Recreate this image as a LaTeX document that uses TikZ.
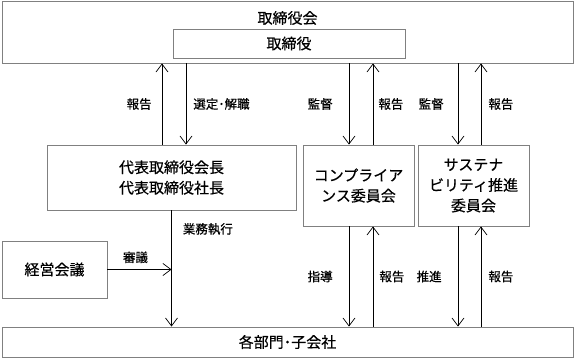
\documentclass[tikz,border=0pt]{standalone}
\usepackage{fontspec}
\setmainfont{Noto Sans CJK JP}[FakeBold=0.5]
\usetikzlibrary{arrows.meta}
\definecolor{boxgray}{RGB}{128,128,128}
\begin{document}
\begin{tikzpicture}[x=1pt, y=-1pt,
    box/.style={draw=boxgray, line width=0.9pt, align=center, font=\fontsize{15}{20.5}\selectfont, inner sep=0pt},
    arr/.style={-{Straight Barb[length=8pt,width=12pt]}, line width=0.7pt},
    lbl/.style={font=\fontsize{12.5}{14}\selectfont, inner sep=0pt}]
    \useasboundingbox (0,0) rectangle (575,358);
    \node[box, minimum width=571pt, minimum height=62pt] (board) at (287.5,32) {};
    \node[font=\fontsize{15}{18}\selectfont, inner sep=0pt] (boardname) at (287.5,18) {取締役会};
    \node[box, minimum width=232pt, minimum height=29pt] (dir) at (289,43.5) {取締役};
    \node[box, minimum width=249pt, minimum height=65pt] (ceo) at (171.5,177.5) {代表取締役会長\\代表取締役社長};
    \node[box, minimum width=111pt, minimum height=81pt] (comp) at (358.5,185.5) {コンプライア\\ンス委員会};
    \node[box, minimum width=111pt, minimum height=81pt] (sus) at (473.5,185.5) {サステナ\\ビリティ推進\\委員会};
    \node[box, minimum width=105pt, minimum height=57pt] (mgmt) at (54.5,269.5) {経営会議};
    \node[box, minimum width=571pt, minimum height=30pt] (depts) at (287.5,342) {各部門･子会社};
    % arrow columns
    \coordinate (c1) at (162,0);
    \coordinate (c2) at (186,0);
    \coordinate (c3) at (349,0);
    \coordinate (c4) at (373,0);
    \coordinate (c5) at (458,0);
    \coordinate (c6) at (481,0);
    \draw[arr] (ceo.north -| c1) -- node[lbl, left=10pt] {報告} (board.south -| c1);
    \draw[arr] (board.south -| c2) -- node[lbl, right=7pt] {選定･解職} (ceo.north -| c2);
    \draw[arr] (board.south -| c3) -- node[lbl, left=16pt] {監督} (comp.north -| c3);
    \draw[arr] (comp.north -| c4) -- node[lbl, right=5pt] {報告} (board.south -| c4);
    \draw[arr] (board.south -| c5) -- node[lbl, left=14pt] {監督} (sus.north -| c5);
    \draw[arr] (sus.north -| c6) -- node[lbl, right=7pt] {報告} (board.south -| c6);
    \draw[arr] (ceo.south) -- node[lbl, pos=0.16, right=11pt] {業務執行} (depts.north -| ceo.south);
    \draw[arr] (mgmt.east) -- node[lbl, above=6pt, xshift=-4pt] {審議} (mgmt.east -| ceo.south);
    \draw[arr] (comp.south -| c3) -- node[lbl, left=16pt] {指導} (depts.north -| c3);
    \draw[arr] (depts.north -| c4) -- node[lbl, right=6pt] {報告} (comp.south -| c4);
    \draw[arr] (sus.south -| c5) -- node[lbl, left=16pt] {推進} (depts.north -| c5);
    \draw[arr] (depts.north -| c6) -- node[lbl, right=7pt] {報告} (sus.south -| c6);
  \end{tikzpicture}
\end{document}
